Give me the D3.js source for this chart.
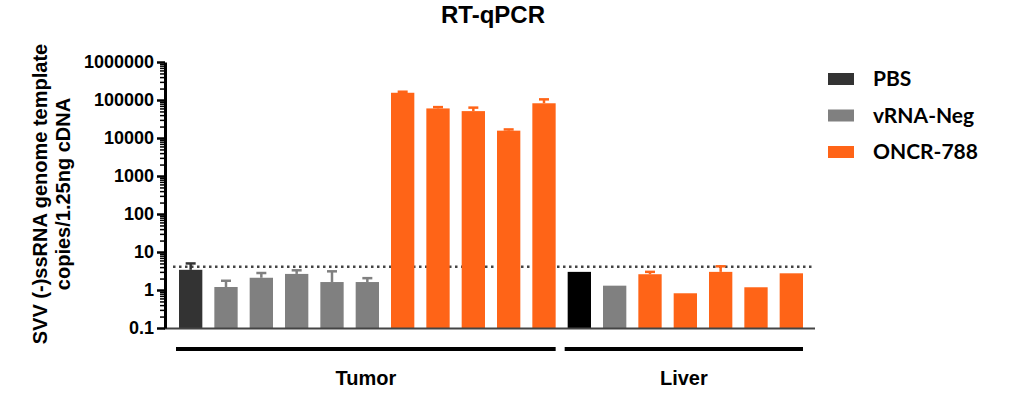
<!DOCTYPE html>
<html>
<head>
<meta charset="utf-8">
<script src="https://cdn.jsdelivr.net/npm/d3@7"></script>
<style>
  body { margin: 0; background: #fff; }
  svg text { font-family: "Liberation Sans", Arial, sans-serif; font-weight: bold; }
</style>
</head>
<body>
<svg id="chart" width="1017" height="397"></svg>
<script>
// bars, left to right
var groups = ["PBS", "vRNA-Neg", "vRNA-Neg", "vRNA-Neg", "vRNA-Neg", "vRNA-Neg",
              "ONCR-788", "ONCR-788", "ONCR-788", "ONCR-788", "ONCR-788",
              "PBS", "vRNA-Neg", "ONCR-788", "ONCR-788", "ONCR-788", "ONCR-788", "ONCR-788"];
var means = [3.4, 1.2, 2.1, 2.65, 1.62, 1.62,
             155000, 60000, 51000, 15600, 82000,
             3.0, 1.3, 2.6, 0.82, 3.0, 1.18, 2.75];
var upper = [5.0, 1.75, 2.8, 3.3, 3.1, 2.05,
             165000, 65000, 63000, 16800, 104000,
             3.0, 1.3, 3.0, 0.82, 4.2, 1.18, 2.75];
var tissues = ["Tumor", "Liver"];
var tissueCounts = [11, 7];
var yTicks = [0.1, 1, 10, 100, 1000, 10000, 100000, 1000000];
var limit = 4.1;
var legendNames = ["PBS", "vRNA-Neg", "ONCR-788"];
var colors = {"PBS": "#333333", "vRNA-Neg": "#808080", "ONCR-788": "#ff6417"};

var svg = d3.select("#chart");

var y = d3.scaleLog()
    .domain([0.1, 1000000])
    .range([328, 62]);

var x = d3.scaleBand()
    .domain(d3.range(means.length))
    .range([173, 809])
    .paddingInner(0.34)
    .paddingOuter(0.17);

//Title
svg.append("text")
    .attr("x", 493)
    .attr("y", 23)
    .attr("text-anchor", "middle")
    .style("font-size", "24px")
    .text("RT-qPCR");

//Y axis title
var yTitle = svg.append("text")
    .attr("transform", "translate(47,194) rotate(-90)")
    .attr("text-anchor", "middle")
    .style("font-size", "20px");
yTitle.append("tspan").attr("x", 0).attr("y", 0).text("SVV (-)ssRNA genome template");
yTitle.append("tspan").attr("x", 0).attr("y", 23).text("copies/1.25ng cDNA");

//Dotted detection limit, behind bars
svg.append("line")
    .attr("x1", 173).attr("x2", 814)
    .attr("y1", y(limit)).attr("y2", y(limit))
    .attr("stroke", "#444")
    .attr("stroke-width", 2.5)
    .attr("stroke-dasharray", "2.5,3.5");

//Bars
var bars = svg.append("g").selectAll("g")
    .data(means)
    .enter().append("g");

bars.append("line")
    .attr("x1", (d, i) => x(i) + x.bandwidth() / 2)
    .attr("x2", (d, i) => x(i) + x.bandwidth() / 2)
    .attr("y1", d => y(d))
    .attr("y2", (d, i) => y(upper[i]))
    .attr("stroke", (d, i) => i == 11 ? "#000" : colors[groups[i]])
    .attr("stroke-width", 2.5);

bars.append("line")
    .attr("x1", (d, i) => x(i) + x.bandwidth() / 2 - 5)
    .attr("x2", (d, i) => x(i) + x.bandwidth() / 2 + 5)
    .attr("y1", (d, i) => y(upper[i]))
    .attr("y2", (d, i) => y(upper[i]))
    .attr("stroke", (d, i) => i == 11 ? "#000" : colors[groups[i]])
    .attr("stroke-width", 2.5)
    .style("display", (d, i) => upper[i] > d ? null : "none");

bars.append("rect")
    .attr("x", (d, i) => x(i))
    .attr("width", x.bandwidth())
    .attr("y", d => y(d))
    .attr("height", d => y(0.1) - y(d))
    .attr("fill", (d, i) => i == 11 ? "#000" : colors[groups[i]]);

//Bottom axis line
svg.append("line")
    .attr("x1", 164).attr("x2", 815)
    .attr("y1", 328.5).attr("y2", 328.5)
    .attr("stroke", "#444")
    .attr("stroke-width", 2);

//Y axis - minor ticks
var minors = [];
for (var k = 0; k < yTicks.length - 1; k++) {
  for (var m = 2; m < 10; m++) minors.push(yTicks[k] * m);
}
var minorAxis = svg.append("g")
    .attr("transform", "translate(165,0)")
    .call(d3.axisLeft(y).tickValues(minors).tickSize(5).tickFormat(""));
minorAxis.select(".domain").remove();
minorAxis.selectAll("line").attr("stroke", "#000").attr("stroke-width", 1.5);

//Y axis - major ticks
var yAxis = svg.append("g")
    .attr("transform", "translate(165,0)")
    .call(d3.axisLeft(y).tickValues(yTicks).tickSize(8).tickSizeOuter(0).tickPadding(3)
      .tickFormat(d => d3.format("")(d)));
yAxis.select(".domain").attr("stroke", "#000").attr("stroke-width", 3);
yAxis.selectAll("line").attr("stroke", "#000").attr("stroke-width", 2.5);
yAxis.selectAll("text")
    .attr("fill", "#000")
    .style("font-size", "18px")
    .style("font-family", "'Liberation Sans', Arial, sans-serif")
    .style("font-weight", "bold");

//Group lines and labels
var start = 0;
tissues.forEach(function(t, j) {
  var first = start, last = start + tissueCounts[j] - 1;
  var x1 = x(first) - 3, x2 = x(last) + x.bandwidth();
  svg.append("line")
      .attr("x1", x1).attr("x2", x2)
      .attr("y1", 349).attr("y2", 349)
      .attr("stroke", "#000")
      .attr("stroke-width", 4);
  svg.append("text")
      .attr("x", (x1 + x2) / 2)
      .attr("y", 385)
      .attr("text-anchor", "middle")
      .style("font-size", "20px")
      .text(t);
  start += tissueCounts[j];
});

//Legend
var legend = svg.append("g").attr("transform", "translate(828,70)");
legendNames.forEach(function(n, i) {
  legend.append("rect")
      .attr("x", 0).attr("y", i * 36.5 + 3)
      .attr("width", 26).attr("height", 12)
      .attr("fill", colors[n]);
  legend.append("text")
      .attr("x", 45).attr("y", i * 36.5 + 16)
      .style("font-family", "Lato, 'Open Sans', sans-serif")
      .style("font-size", "21px")
      .text(n);
});
</script>
</body>
</html>
